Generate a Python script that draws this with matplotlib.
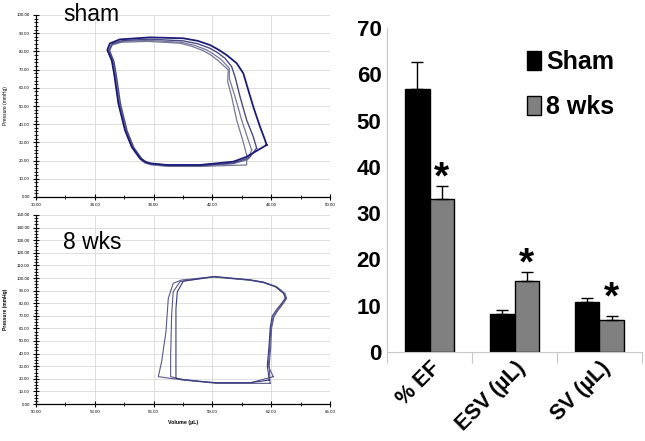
import matplotlib
matplotlib.use("Agg")
import matplotlib.pyplot as plt
from matplotlib.ticker import FixedLocator, MultipleLocator, FormatStrFormatter

plt.rcParams['font.family'] = ['Liberation Sans', 'DejaVu Sans']

# ---------------- data: PV loops ----------------
sham_loop1_vol = [45.69, 45.58, 45.24, 44.78, 44.44, 44.10, 43.65, 42.97, 42.40, 41.84, 41.0, 40.02, 37.76, 35.71, 35.03, 34.85, 35.15, 35.31, 35.60, 36.05, 36.51, 37.07, 37.40, 37.76, 38.89, 41.16, 43.42, 44.33, 45.69]
sham_loop1_pres = [28.6, 31.3, 38.6, 49.6, 58.8, 68.0, 73.5, 78.0, 81.0, 83.5, 85.8, 87.2, 87.7, 86.6, 84.4, 80.8, 75.3, 68.0, 51.5, 36.8, 27.6, 21.3, 19.4, 18.5, 17.6, 17.6, 19.4, 22.1, 28.6]
sham_loop2_vol = [45.01, 44.78, 44.33, 43.88, 43.54, 43.31, 42.86, 42.35, 41.84, 41.0, 40.0, 37.8, 35.9, 35.2, 35.0, 35.3, 35.45, 35.75, 36.2, 36.65, 37.2, 37.5, 37.9, 39.0, 41.2, 43.4, 44.5, 45.01]
sham_loop2_pres = [26.8, 33.1, 42.3, 55.1, 66.1, 71.6, 76.2, 79.3, 81.7, 84.2, 85.8, 86.7, 86.0, 84.2, 80.5, 74.5, 67.5, 51.0, 36.3, 27.2, 21.0, 19.2, 18.2, 17.3, 17.3, 18.6, 21.5, 26.8]
sham_loop3_vol = [44.67, 44.44, 43.99, 43.54, 43.15, 43.15, 42.63, 42.10, 41.61, 40.8, 39.9, 37.7, 35.85, 35.15, 34.95, 35.25, 35.4, 35.7, 36.15, 36.6, 37.15, 37.45, 37.85, 39.0, 41.2, 43.4, 44.4, 44.67]
sham_loop3_pres = [25.8, 31.3, 42.3, 55.1, 65.2, 70.7, 75.3, 78.4, 80.8, 83.3, 85.0, 86.0, 85.5, 83.8, 80.2, 74.0, 67.0, 50.8, 36.0, 27.0, 20.8, 18.9, 17.9, 17.0, 17.0, 18.3, 20.5, 25.8]
sham_loop4_vol = [44.33, 44.06, 43.65, 43.31, 43.04, 43.08, 42.40, 41.90, 41.38, 40.6, 39.8, 37.6, 35.8, 35.1, 34.9, 35.2, 35.35, 35.65, 36.1, 36.55, 37.1, 37.4, 37.8, 39.0, 41.2, 43.4, 44.33, 44.33]
sham_loop4_pres = [23.1, 31.3, 42.3, 55.1, 63.4, 69.8, 74.9, 78.0, 80.4, 82.8, 84.5, 85.5, 85.0, 83.3, 79.8, 73.5, 66.5, 50.5, 35.8, 26.8, 20.6, 18.7, 17.7, 16.8, 16.8, 17.4, 17.6, 23.1]

wk8_loop1_vol = [61.94, 61.90, 61.97, 62.02, 62.14, 62.36, 62.62, 62.79, 62.70, 62.28, 61.6, 60.92, 59.05, 57.43, 57.0, 56.75, 56.63, 56.41, 56.24, 56.84, 57.52, 58.37, 59.22, 60.92, 61.94]
wk8_loop1_pres = [16.4, 31.0, 44.2, 60.1, 69.3, 74.6, 79.9, 83.9, 87.8, 93.1, 96.6, 98.4, 101.0, 98.4, 95.8, 83.9, 57.4, 33.6, 21.7, 20.4, 19.0, 17.7, 16.4, 16.4, 16.4]
wk8_loop2_vol = [62.11, 61.85, 61.92, 61.98, 62.10, 62.32, 62.58, 62.75, 62.66, 62.25, 61.6, 60.90, 59.05, 57.35, 57.0, 56.92, 56.87, 56.87, 57.52, 58.37, 59.22, 60.92, 62.11]
wk8_loop2_pres = [21.7, 30.0, 44.0, 60.0, 69.0, 74.2, 79.5, 83.5, 87.5, 92.8, 96.3, 98.2, 100.8, 97.1, 89.1, 70.6, 38.9, 21.7, 19.2, 17.9, 16.7, 16.8, 21.7]
wk8_loop3_vol = [61.90, 61.80, 61.88, 61.95, 62.05, 62.28, 62.55, 62.72, 62.62, 62.20, 61.6, 60.90, 59.10, 57.52, 57.21, 57.14, 57.14, 57.14, 57.52, 58.37, 59.22, 60.92, 61.90]
wk8_loop3_pres = [19.0, 30.5, 44.5, 60.5, 69.8, 75.0, 80.2, 84.2, 88.0, 93.3, 96.8, 98.6, 101.2, 97.6, 89.1, 75.9, 44.2, 20.4, 19.4, 18.0, 16.9, 16.9, 19.0]

sham_xticks = [30, 34, 38, 42, 46, 50]
wk8_xticks = [50, 53, 56, 59, 62, 65]

# ---------------- data: bar chart ----------------
categories = ['% EF', 'ESV (µL)', 'SV (µL)']
sham_vals = [56.9, 8.3, 10.7]
sham_err = [5.8, 0.8, 1.0]
wk8_vals = [33.0, 15.4, 7.0]
wk8_err = [2.9, 1.8, 0.7]
star_y = [37.4, 18.8, 11.5]
series_labels = ['Sham', '8 wks']

W, H = 645, 441
fig = plt.figure(figsize=(W / 100, H / 100), dpi=100)


def px_axes(l, t, r, b):
    return fig.add_axes([l / W, 1 - b / H, (r - l) / W, (b - t) / H])


def style_pv(ax, xticks, ylim, ymaj, ymin):
    ax.set_xlim(xticks[0], xticks[-1])
    ax.set_ylim(*ylim)
    ax.xaxis.set_major_locator(FixedLocator(xticks))
    mids = [(a + b) / 2 for a, b in zip(xticks[:-1], xticks[1:])]
    ax.xaxis.set_minor_locator(FixedLocator(mids))
    ax.yaxis.set_major_locator(MultipleLocator(ymaj))
    ax.yaxis.set_minor_locator(MultipleLocator(ymin))
    ax.xaxis.set_major_formatter(FormatStrFormatter('%.2f'))
    ax.yaxis.set_major_formatter(FormatStrFormatter('%.2f'))
    ax.grid(True, which='major', color='#d9d9d9', lw=0.6)
    ax.set_axisbelow(True)
    for s in ('top', 'right'):
        ax.spines[s].set_visible(False)
    for s in ('left', 'bottom'):
        ax.spines[s].set_linewidth(0.9)
    ax.tick_params(which='major', direction='inout', length=5, width=0.8, labelsize=3.2, pad=2)
    ax.tick_params(which='minor', direction='inout', length=3, width=0.6)


# top PV panel (sham)
ax1 = px_axes(36, 15, 330, 197)
style_pv(ax1, sham_xticks, (0, 100), 10, 2)
ax1.plot(sham_loop4_vol, sham_loop4_pres, color='#77779a', lw=0.9)
ax1.plot(sham_loop3_vol, sham_loop3_pres, color='#77779a', lw=0.9)
ax1.plot(sham_loop2_vol, sham_loop2_pres, color='#4a4a86', lw=1.0)
ax1.plot(sham_loop1_vol, sham_loop1_pres, color='#1c1c78', lw=1.3)
ax1.set_ylabel('Pressure (mmHg)', fontsize=3.5, labelpad=6)

# bottom PV panel (8 wks)
ax2 = px_axes(36, 215, 330, 404)
style_pv(ax2, wk8_xticks, (0, 150), 10, 2.5)
ax2.plot(wk8_loop1_vol, wk8_loop1_pres, color='#5a5a8a', lw=0.8)
ax2.plot(wk8_loop2_vol, wk8_loop2_pres, color='#5a5a8a', lw=0.8)
ax2.plot(wk8_loop3_vol, wk8_loop3_pres, color='#3a3a80', lw=0.8)
ax2.set_ylabel('Pressure (mmHg)', fontsize=3.5, labelpad=6, fontweight='bold')
ax2.set_xlabel('Volume (µL)', fontsize=3.8, labelpad=4, fontweight='bold')

fig.text(63 / W, 1 - 21 / H, 'sham', fontsize=16.5, va='baseline', ha='left')
fig.text(63 / W, 1 - 249 / H, '8 wks', fontsize=16.5, va='baseline', ha='left')

# bar chart
ax3 = px_axes(387, 28, 642, 352)
x = list(range(len(categories)))
bw = 0.29
off = 0.145
b1 = ax3.bar([i - off for i in x], sham_vals, bw, color='black', edgecolor='black', lw=1,
             yerr=[[0] * 3, sham_err], error_kw=dict(ecolor='black', capsize=4, elinewidth=1, capthick=1))
b2 = ax3.bar([i + off for i in x], wk8_vals, bw, color='#808080', edgecolor='black', lw=1,
             yerr=[[0] * 3, wk8_err], error_kw=dict(ecolor='black', capsize=4, elinewidth=1, capthick=1))
for i, yv in zip(x, star_y):
    ax3.text(i + off, yv, '*', ha='center', va='center', fontsize=28, fontweight='bold')

ax3.set_xlim(-0.5, 2.5)
ax3.set_ylim(0, 70)
ax3.set_yticks(range(0, 71, 10))
ax3.tick_params(axis='y', length=0, labelsize=16, pad=4)
for lab in ax3.get_yticklabels():
    lab.set_fontweight('bold')
ax3.set_xticks(x)
ax3.set_xticklabels(categories, rotation=45, ha='right', rotation_mode='anchor',
                    fontsize=15.5, fontweight='bold')
ax3.tick_params(axis='x', which='major', length=0, pad=4)
ax3.set_xticks([-0.5, 0.5, 1.5, 2.5], minor=True)
ax3.tick_params(axis='x', which='minor', length=8, color='#c8c8c8', width=0.8)
for s in ('top', 'right'):
    ax3.spines[s].set_visible(False)
ax3.spines['left'].set_color('#c8c8c8')
ax3.spines['bottom'].set_color('#c8c8c8')

leg = ax3.legend([b1, b2], series_labels, loc='upper left', bbox_to_anchor=(527 / W, 1 - 50 / H),
                 bbox_transform=fig.transFigure, frameon=False, borderpad=0, borderaxespad=0,
                 handlelength=0.56, handleheight=0.76, handletextpad=0.2, labelspacing=0.85,
                 prop=dict(size=18, weight='bold'))

fig.savefig('out.png', dpi=100)
